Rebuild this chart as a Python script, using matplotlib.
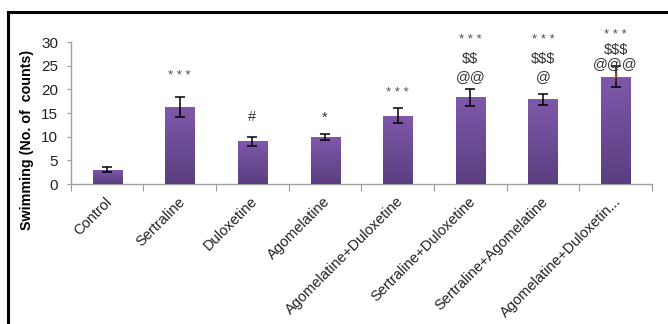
import matplotlib.pyplot as plt
import matplotlib.transforms as mtransforms
import numpy as np
from matplotlib.colors import LinearSegmentedColormap
from matplotlib.lines import Line2D

plt.rcParams['font.family'] = ['Liberation Sans', 'DejaVu Sans']

groups = ['Control', 'Sertraline', 'Duloxetine', 'Agomelatine',
          'Agomelatine+Duloxetine', 'Sertraline+Duloxetine',
          'Sertraline+Agomelatine', 'Agomelatine+Duloxetin...']
means = [3.0, 16.3, 9.0, 9.9, 14.4, 18.3, 17.9, 22.7]
errors = [0.5, 2.2, 0.9, 0.6, 1.6, 1.8, 1.2, 2.2]

# significance marks per group: (y value, text)
sig_labels = {
    1: [(22.8, '* * *')],
    2: [(14.2, '#')],
    3: [(13.9, '*')],
    4: [(19.3, '* * *')],
    5: [(30.4, '* * *'), (26.4, '$$'), (22.7, '@@')],
    6: [(30.4, '* * *'), (26.4, '$$$'), (22.7, '@')],
    7: [(31.5, '* * *'), (28.3, '$$$'), (25.3, '@@@')],
}

fig = plt.figure(figsize=(6.68, 3.24), dpi=100)
ax = fig.add_axes([0.106, 0.432, 0.870, 0.438])

x = np.arange(len(groups))
bars = ax.bar(x, means, width=0.4, color='#6b4b96', zorder=2)
ax.errorbar(x, means, yerr=errors, fmt='none', ecolor='black',
            elinewidth=1.1, capsize=3.5, capthick=1.1, zorder=4)

# vertical purple gradient inside each bar
cmap = LinearSegmentedColormap.from_list('purp', ['#5a3e80', '#7f59aa'])
grad = np.linspace(0, 1, 256).reshape(-1, 1)
for b in bars:
    x0, w, h = b.get_x(), b.get_width(), b.get_height()
    im = ax.imshow(grad, extent=[x0, x0 + w, 0, h], origin='lower',
                   cmap=cmap, aspect='auto', zorder=3)
    im.set_clip_path(b)

for i, items in sig_labels.items():
    for yv, txt in items:
        small = txt.startswith('*') and len(txt) > 1
        ax.text(x[i], yv, txt, ha='center', va='center',
                fontsize=9.5 if small else 10.5,
                color='#505050' if small else '#333333',
                clip_on=False, zorder=5, parse_math=False)
ax.text(x[7], 22.5, '!!', ha='center', va='center', fontsize=7,
        color='#b0652a', clip_on=False, zorder=5)

ax.set_xlim(-0.5, len(groups) - 0.5)
ax.set_ylim(0, 30)
ax.set_yticks(range(0, 31, 5))
ax.set_xticks(np.arange(len(groups) + 1) - 0.5, minor=False)
ax.set_xticklabels([])
ax.set_xticks(x, minor=True)
ax.set_xticklabels(groups, minor=True, rotation=45, ha='right',
                   rotation_mode='anchor', fontsize=10.5, color='#222222')
ax.tick_params(axis='x', which='major', direction='out', length=5,
               color='#999999')
ax.tick_params(axis='x', which='minor', length=0, pad=6)
ax.tick_params(axis='y', direction='out', length=3, color='#999999',
               labelsize=11, labelcolor='#222222', pad=6)

# nudge the slanted category labels a little
shift = mtransforms.ScaledTranslation(-0.02, -0.02, fig.dpi_scale_trans)
for lab in ax.get_xticklabels(minor=True):
    lab.set_transform(lab.get_transform() + shift)

for s in ['top', 'right']:
    ax.spines[s].set_visible(False)
for s in ['left', 'bottom']:
    ax.spines[s].set_color('#a0a0a0')
    ax.spines[s].set_linewidth(1.0)

ax.set_ylabel('Swimming (No. of  counts)', fontsize=10.3, fontweight='bold')
ax.yaxis.set_label_coords(-0.064, 0.31)

# outer frame lines
fig.add_artist(Line2D([0.012, 1.0], [0.963, 0.963], color='black', lw=2.2,
                      transform=fig.transFigure))
fig.add_artist(Line2D([0.012, 0.012], [0.0, 0.963], color='black', lw=2.2,
                      transform=fig.transFigure))

fig.savefig('out.png', dpi=100)
